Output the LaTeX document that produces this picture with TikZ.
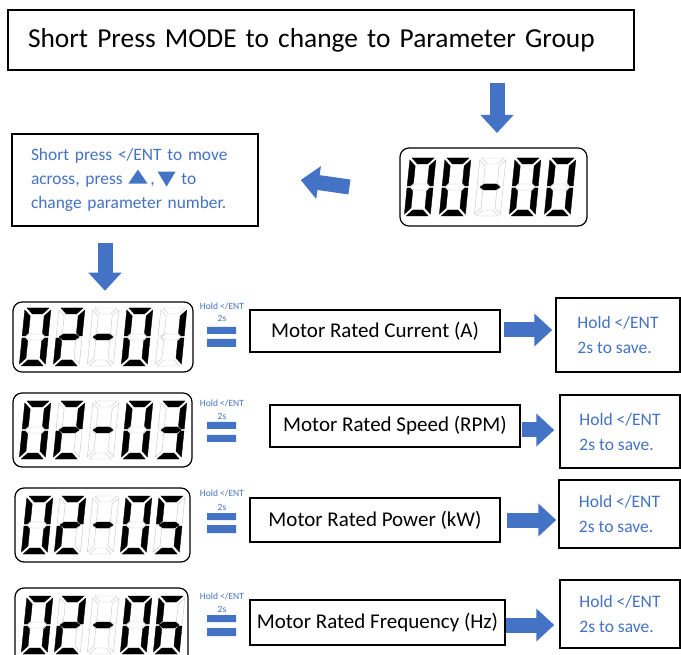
\documentclass[tikz,border=0pt]{standalone}
\usepackage{fontspec}
\setmainfont{Carlito}
\usetikzlibrary{arrows.meta,calc}
\definecolor{lblue}{HTML}{4472C4}

\tikzset{
    box/.style={draw,line width=1.5pt,inner sep=0pt},
    lcdframe/.style={draw,line width=1.2pt,rounded corners=9pt,minimum width=#1,inner sep=0pt},
    ghost/.style={draw=gray!45,line width=0.4pt,fill=white},
    lit/.style={draw=black,line width=0.3pt,fill=black},
    blockarrow/.style={lblue,line width=15pt,-{Triangle[length=18pt,width=32pt]}},
    holdtxt/.style={text=lblue,font=\fontsize{9.5}{11}\selectfont,inner sep=0pt},
    savebox/.style={box,align=left,text=lblue,font=\fontsize{17.5}{25}\selectfont},
    labbox/.style={box,font=\fontsize{21}{24}\selectfont},
}

% one digit of the display, 26 x 58, origin top left
\def\lcdsega{(2,0)--(24,0)--(18,6)--(8,6)--cycle}
\def\lcdsegb{(26,2)--(26,28)--(23,28)--(20,25)--(20,8)--cycle}
\def\lcdsegc{(26,30)--(26,56)--(20,50)--(20,33)--(23,30)--cycle}
\def\lcdsegd{(2,58)--(24,58)--(18,52)--(8,52)--cycle}
\def\lcdsege{(0,30)--(3,30)--(6,33)--(6,50)--(0,56)--cycle}
\def\lcdsegf{(0,2)--(6,8)--(6,25)--(3,28)--(0,28)--cycle}
\def\lcdsegg{(3,29)--(7,26)--(19,26)--(23,29)--(19,32)--(7,32)--cycle}
\expandafter\def\csname digit0\endcsname{a,b,c,d,e,f}
\expandafter\def\csname digit1\endcsname{b,c}
\expandafter\def\csname digit2\endcsname{a,b,g,e,d}
\expandafter\def\csname digit3\endcsname{a,b,g,c,d}
\expandafter\def\csname digit5\endcsname{a,f,g,c,d}
\expandafter\def\csname digit6\endcsname{a,f,g,e,c,d}
\expandafter\def\csname digit-\endcsname{g}
\newcommand\lcdsegdraw[2]{\draw[#2] #1;}
\newcommand\lcdseg[2]{\expandafter\lcdsegdraw\csname lcdseg#2\endcsname{#1}}
\newcommand\lcddigit[3]{% left x, top y, digit
    \begin{scope}[shift={(#1,#2)},xslant=0.1]
        \foreach \s in {a,b,c,d,e,f,g}{\lcdseg{ghost}{\s}}
        \expandafter\let\expandafter\litsegs\csname digit#3\endcsname
        \foreach \s in \litsegs {\lcdseg{lit}{\s}}
    \end{scope}}
\newcommand\lcdshow[4]{% left x, top y, pitch, digits
    \foreach \d [count=\i from 0] in {#4}{\lcddigit{#1+#3*\i}{#2}{\d}}}
\newcommand\uptri{\tikz[baseline=-1pt]\fill[lblue] (0pt,0pt)--(19pt,0pt)--(9.5pt,14pt)--cycle;}
\newcommand\downtri{\tikz[baseline=0pt]\fill[lblue] (0pt,13pt)--(18pt,13pt)--(9pt,-2pt)--cycle;}

\begin{document}
\begin{tikzpicture}[x=1pt,y=-1pt]
    \useasboundingbox (0,0) rectangle (681,655);
    \clip (0,0) rectangle (681,655);
    \fill[white] (0,0) rectangle (681,655);

    % heading
    \node[box,minimum width=626pt,minimum height=60pt,text width=586pt,inner xsep=20pt,align=left,
        font=\fontsize{27.4}{30}\selectfont] (title) at (321,40) {Short Press MODE to change to Parameter Group};
    \node[lcdframe=187pt,minimum height=78pt] (disp0) at (493.5,187) {};
    \lcdshow{410}{158}{35}{0,0,-,0,0}
    \coordinate (d0top) at (497,83);
    \coordinate (d0bot) at (497,133);
    \draw[blockarrow] (d0top)--(d0bot);

    \node[box,minimum width=246pt,minimum height=92pt,text width=208pt,inner xsep=19pt,align=left,
        text=lblue,font=\fontsize{17.4}{24}\selectfont] (info) at (135,180)
        {Short press </ENT to move\\across, press \uptri\,,\,\downtri\ to\\change parameter number.};
    \draw[blockarrow] ($(disp0.west)+(-50,0)$)--($(info.east)+(42,0)$);
    \draw[blockarrow] ($(info.south)+(-30,16)$)--($(info.south)+(-30,64)$);

    % 02-01
    \node[lcdframe=180pt,minimum height=70pt] (disp1) at (103,337) {};
    \lcdshow{25}{308}{34}{0,2,-,0,1}
    \node[holdtxt] (hold1) at (222,306) {Hold </ENT};
    \node[holdtxt] at (222,318) {2s};
    \fill[lblue] (207,327) rectangle (236,334) (207,339) rectangle (236,347);
    \node[labbox,minimum width=250pt,minimum height=42pt] (lab1) at (375,331) {Motor Rated Current (A)};
    \node[savebox,minimum width=124pt,minimum height=74pt] (save1) at (618,335) {Hold </ENT\\2s to save.};
    \draw[blockarrow] ($(lab1.east)+(3,-1)$)--($(save1.west |- lab1.east)+(-3,-1)$);

    % 02-03
    \node[lcdframe=179pt,minimum height=74pt] (disp2) at (102.5,430) {};
    \lcdshow{25}{401}{34}{0,2,-,0,3}
    \node[holdtxt] (hold2) at (222,403) {Hold </ENT};
    \node[holdtxt] at (222,416) {2s};
    \fill[lblue] (207,422) rectangle (236,429) (207,435) rectangle (236,442);
    \node[labbox,minimum width=250pt,minimum height=42pt] (lab2) at (395,426) {Motor Rated Speed (RPM)};
    \node[savebox,minimum width=120pt,minimum height=73pt] (save2) at (620,431.5) {Hold </ENT\\2s to save.};
    \draw[blockarrow] ($(lab2.east)+(1,4)$)--($(save2.west |- lab2.east)+(-5,4)$);

    % 02-05
    \node[lcdframe=175pt,minimum height=74pt] (disp3) at (102.5,525) {};
    \lcdshow{27}{496}{33}{0,2,-,0,5}
    \node[holdtxt] (hold3) at (222,493) {Hold </ENT};
    \node[holdtxt] at (222,507) {2s};
    \fill[lblue] (207,513) rectangle (236,520) (207,525) rectangle (236,533);
    \node[labbox,minimum width=250pt,minimum height=44pt] (lab3) at (375,520) {Motor Rated Power (kW)};
    \node[savebox,minimum width=121pt,minimum height=68pt] (save3) at (619.5,514) {Hold </ENT\\2s to save.};
    \draw[blockarrow] ($(lab3.east)+(6,0)$)--($(save3.west |- lab3.east)+(-2,0)$);

    % 02-06
    \node[lcdframe=173pt,minimum height=80pt] (disp4) at (101.5,628) {};
    \lcdshow{27}{596}{33}{0,2,-,0,6}
    \node[holdtxt] (hold4) at (222,596) {Hold </ENT};
    \node[holdtxt] at (222,609) {2s};
    \fill[lblue] (207,615) rectangle (236,622) (207,628) rectangle (236,636);
    \node[labbox,minimum width=255pt,minimum height=45pt] (lab4) at (377.5,622.5) {Motor Rated Frequency (Hz)};
    \node[savebox,minimum width=120pt,minimum height=68pt] (save4) at (620,614) {Hold </ENT\\2s to save.};
    \draw[blockarrow] ($(lab4.east)+(0,2.5)$)--($(save4.west |- lab4.east)+(-5,2.5)$);
\end{tikzpicture}
\end{document}
